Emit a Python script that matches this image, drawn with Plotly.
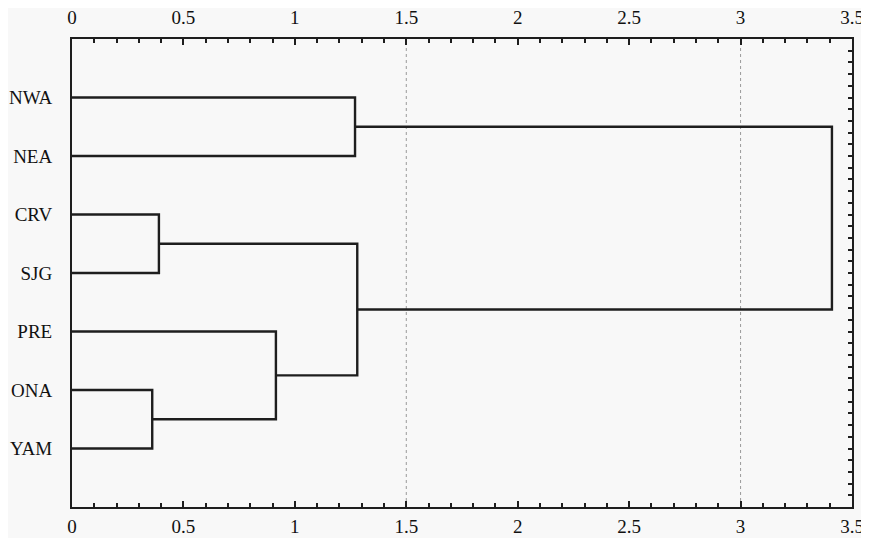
import plotly.graph_objects as go

# ---- data ----
leaves = ["NWA", "NEA", "CRV", "SJG", "PRE", "ONA", "YAM"]
merge_pairs = [("ONA", "YAM"), ("CRV", "SJG"), ("PRE", "C1"),
               ("NWA", "NEA"), ("C2", "C3"), ("C4", "C5")]
merge_heights = [0.36, 0.39, 0.915, 1.27, 1.28, 3.41]
x_ticks = [0, 0.5, 1, 1.5, 2, 2.5, 3, 3.5]
x_tick_labels = ["0", "0.5", "1", "1.5", "2", "2.5", "3", "3.5"]
grid_values = [1.5, 3]

# ---- dendrogram geometry (leaf order top->bottom) ----
n = len(leaves)
pos = {name: n - i for i, name in enumerate(leaves)}   # y position
hgt = {name: 0.0 for name in leaves}
xs, ys = [], []
for k, ((a, b), h) in enumerate(zip(merge_pairs, merge_heights), start=1):
    ya, yb = pos[a], pos[b]
    xs += [hgt[a], h, h, hgt[b], None]
    ys += [ya, ya, yb, yb, None]
    cname = "C%d" % k
    pos[cname] = (ya + yb) / 2
    hgt[cname] = h

FONT = "Liberation Serif, Times New Roman, serif"
INK = "#1e1e1e"
BG = "#f8f8f8"

fig = go.Figure()
fig.add_trace(go.Scatter(x=xs, y=ys, mode="lines",
                         line=dict(color=INK, width=2.4),
                         hoverinfo="skip", showlegend=False))
# invisible helpers so the mirrored axes are drawn
fig.add_trace(go.Scatter(x=[0, 3.5], y=[0, 8], xaxis="x2", yaxis="y2",
                         mode="markers", marker=dict(opacity=0),
                         hoverinfo="skip", showlegend=False))

for g in grid_values:
    fig.add_shape(type="line", xref="x", yref="paper", x0=g, x1=g, y0=0, y1=1,
                  line=dict(color="#9a9a9a", width=1, dash="dot"), layer="below")

common_x = dict(range=[0, 3.5], tickvals=x_ticks, ticktext=x_tick_labels,
                ticks="inside", ticklen=6, tickwidth=1.5, tickcolor=INK,
                showline=True, linecolor=INK, linewidth=2, showgrid=False,
                zeroline=False, automargin=False,
                tickfont=dict(family=FONT, size=19, color="#111"),
                minor=dict(ticks="inside", dtick=0.1, ticklen=4, tickwidth=1.5,
                           tickcolor=INK, showgrid=False))

fig.update_layout(
    width=869, height=538,
    margin=dict(l=64, r=25, t=31, b=39),
    paper_bgcolor=BG, plot_bgcolor=BG,
    showlegend=False,
    xaxis=dict(**common_x, side="bottom", ticklabelstandoff=1),
    xaxis2=dict(**common_x, side="top", overlaying="x", matches="x",
                ticklabelstandoff=5),
    yaxis=dict(range=[0, 8], tickvals=[pos[l] for l in leaves], ticktext=leaves,
               ticks="outside", ticklen=14, tickcolor="rgba(0,0,0,0)",
               showline=True, linecolor=INK, linewidth=2, showgrid=False,
               zeroline=False, automargin=False,
               tickfont=dict(family=FONT, size=19, color="#111")),
    yaxis2=dict(range=[0, 8], overlaying="y", side="right", matches="y",
                tickmode="linear", tick0=0, dtick=0.2,
                ticks="inside", ticklen=4, tickwidth=1.5, tickcolor=INK,
                showticklabels=False, showline=True, linecolor=INK, linewidth=2,
                showgrid=False, zeroline=False, automargin=False),
)

fig.write_html("out.html")
